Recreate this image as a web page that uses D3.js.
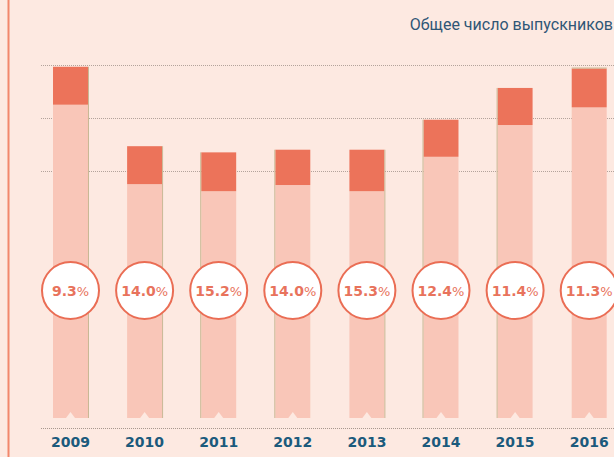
<!DOCTYPE html>
<head>
  <meta charset="utf-8">
  <script src="https://d3js.org/d3.v7.min.js"></script>
  <style>
    body { margin: 0; background: #fde9e1; }
    svg { display: block; }
  </style>
</head>
<body>
<script>
  // data
  var years = ["2009", "2010", "2011", "2012", "2013", "2014", "2015", "2016"];
  var totalGrads = [398, 308, 301, 304, 304, 338, 374, 396];
  var baseGrads = [355, 265, 257, 264, 257, 296, 332, 352];
  var shareLabels = ["9.3", "14.0", "15.2", "14.0", "15.3", "12.4", "11.4", "11.3"];
  var gridValues = [280, 340, 400];
  var title = "Общее число выпускников";

  var W = 614, H = 457;
  var bg = "#fde9e1", dark = "#ec735a", light = "#f9c6b8", navy = "#1b5a7c";

  var svg = d3.select("body").append("svg")
    .attr("width", W)
    .attr("height", H);

  svg.append("rect").attr("width", W).attr("height", H).attr("fill", bg);

  // left accent line
  svg.append("rect")
    .attr("x", 7.5).attr("y", 0)
    .attr("width", 2).attr("height", H)
    .attr("fill", "#f2876c");

  var x = d3.scaleBand()
    .domain(years)
    .range([33.45, 626.25])
    .paddingInner(0.528)
    .paddingOuter(0.264);

  var y = d3.scaleLinear()
    .domain([0, 400])
    .range([418, 65]);

  // gridlines
  svg.selectAll(".grid")
    .data(gridValues)
    .enter().append("line")
    .attr("class", "grid")
    .attr("x1", 41).attr("x2", W)
    .attr("y1", function(d) { return Math.round(y(d)) + 0.5; })
    .attr("y2", function(d) { return Math.round(y(d)) + 0.5; })
    .attr("stroke", "#b3a39b")
    .attr("stroke-dasharray", "1,1");

  var data = years.map(function(yr, i) {
    return { year: yr, total: totalGrads[i], base: baseGrads[i], label: shareLabels[i] };
  });

  var bars = svg.selectAll(".bar")
    .data(data)
    .enter().append("g")
    .attr("class", "bar")
    .attr("transform", function(d) { return "translate(" + x(d.year) + ",0)"; });

  var bw = x.bandwidth();

  bars.append("rect")
    .attr("y", function(d) { return y(d.base); })
    .attr("width", bw)
    .attr("height", function(d) { return y(0) - y(d.base); })
    .attr("fill", light);

  bars.append("rect")
    .attr("y", function(d) { return y(d.total); })
    .attr("width", bw)
    .attr("height", function(d) { return y(d.base) - y(d.total); })
    .attr("fill", dark);

  // thin olive edge on each bar
  var edgeSides = ["right", "right", "left", "left", "right", "left", "left", "top"];
  bars.append("line")
    .each(function(d, i) {
      var s = edgeSides[i], el = d3.select(this);
      if (s == "top") {
        el.attr("x1", 0).attr("x2", bw)
          .attr("y1", y(d.total) - 0.5).attr("y2", y(d.total) - 0.5);
      } else {
        var xx = s == "right" ? bw + 0.5 : -0.5;
        el.attr("x1", xx).attr("x2", xx)
          .attr("y1", y(d.total)).attr("y2", y(0));
      }
    })
    .attr("stroke", "#c8b894")
    .attr("stroke-width", 1);

  // small notch at the bottom of every bar
  bars.append("path")
    .attr("d", "M" + (bw / 2 - 4.5) + "," + y(0) + "L" + (bw / 2) + "," + (y(0) - 6) + "L" + (bw / 2 + 4.5) + "," + y(0) + "Z")
    .attr("fill", bg);

  // share badges
  var badges = bars.append("g")
    .attr("transform", "translate(" + (bw / 2) + ",290.5)");

  badges.append("circle")
    .attr("r", 28.5)
    .attr("fill", "#fff")
    .attr("stroke", "#ea6d54")
    .attr("stroke-width", 2);

  var lbl = badges.append("text")
    .attr("text-anchor", "middle")
    .attr("dy", "0.36em")
    .style("font-family", "'DejaVu Sans', sans-serif")
    .style("font-size", "14px")
    .style("font-weight", "bold")
    .attr("fill", "#e8735c");
  lbl.append("tspan").text(function(d) { return d.label; });
  lbl.append("tspan").style("font-weight", "normal").style("font-size", "13px").text("%");

  // x axis
  svg.append("line")
    .attr("x1", 41).attr("x2", W)
    .attr("y1", 428.5).attr("y2", 428.5)
    .attr("stroke", "#a8988e")
    .attr("stroke-dasharray", "1,1");

  svg.selectAll(".year")
    .data(years)
    .enter().append("text")
    .attr("class", "year")
    .attr("x", function(d) { return x(d) + bw / 2; })
    .attr("y", 447)
    .attr("text-anchor", "middle")
    .style("font-family", "'DejaVu Sans', sans-serif")
    .style("font-size", "14px")
    .style("font-weight", "bold")
    .attr("fill", navy)
    .text(function(d) { return d; });

  svg.append("text")
    .attr("x", 613)
    .attr("y", 30)
    .attr("text-anchor", "end")
    .style("font-family", "Roboto, sans-serif")
    .style("font-size", "16px")
    .attr("fill", "#2f5676")
    .text(title);
</script>
</body>
